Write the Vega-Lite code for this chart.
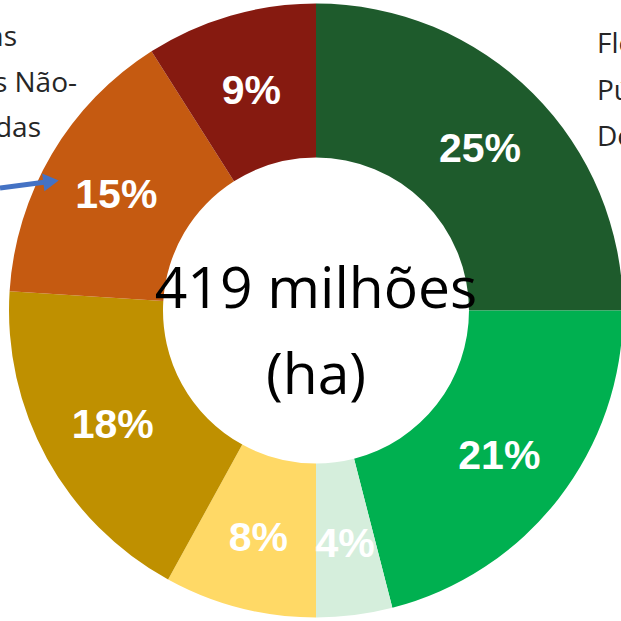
{
  "$schema": "https://vega.github.io/schema/vega-lite/v6.json",
  "width": 610,
  "height": 621,
  "padding": {"left": 11, "top": 0, "right": 0, "bottom": 0},
  "autosize": {"type": "none"},
  "background": "white",
  "config": {"view": {"stroke": null}},
  "datasets": {
    "slices": [
      {"i": 1, "cat": "Florestas Públicas Destinadas", "pct": 25, "label": "25%"},
      {"i": 2, "cat": "Categoria B", "pct": 21, "label": "21%"},
      {"i": 3, "cat": "Categoria C", "pct": 4, "label": "4%"},
      {"i": 4, "cat": "Categoria D", "pct": 8, "label": "8%"},
      {"i": 5, "cat": "Categoria E", "pct": 18, "label": "18%"},
      {"i": 6, "cat": "Florestas Públicas Não-Destinadas", "pct": 15, "label": "15%"},
      {"i": 7, "cat": "Categoria G", "pct": 9, "label": "9%"}
    ],
    "notesLeft": [
      {"t": "Florestas", "x": 17, "y": 38},
      {"t": "Públicas Não-", "x": 77, "y": 84},
      {"t": "Destinadas", "x": 41, "y": 129}
    ],
    "notesRight": [
      {"t": "Florestas", "x": 597, "y": 45},
      {"t": "Públicas", "x": 597, "y": 92},
      {"t": "Destinadas", "x": 597, "y": 138}
    ],
    "arrow": [
      {"x": 0, "y": 188},
      {"x": 46, "y": 182}
    ],
    "arrowTip": [
      {"x": 51, "y": 181.5}
    ]
  },
  "layer": [
    {
      "data": {"name": "slices"},
      "mark": {"type": "arc", "outerRadius": 307, "innerRadius": 153},
      "encoding": {
        "theta": {"field": "pct", "type": "quantitative", "stack": true},
        "order": {"field": "i", "type": "quantitative"},
        "color": {
          "field": "cat",
          "type": "nominal",
          "legend": null,
          "scale": {
            "domain": ["Florestas Públicas Destinadas", "Categoria B", "Categoria C", "Categoria D", "Categoria E", "Florestas Públicas Não-Destinadas", "Categoria G"],
            "range": ["#1E5B2C", "#00B050", "#D5EEDC", "#FFD966", "#BF9000", "#C55A11", "#861A10"]
          }
        }
      }
    },
    {
      "data": {"name": "slices"},
      "mark": {"type": "text", "radius": 232, "font": "Liberation Sans", "fontWeight": "bold", "fontSize": 41, "fill": "white", "baseline": "middle", "align": "center", "dy": 4},
      "encoding": {
        "theta": {"field": "pct", "type": "quantitative", "stack": true},
        "order": {"field": "i", "type": "quantitative"},
        "text": {"field": "label"}
      }
    },
    {
      "data": {"values": [{"t": ["419 milhões", "(ha)"]}]},
      "mark": {"type": "text", "font": "Open Sans", "fontSize": 57, "lineHeight": 86, "baseline": "alphabetic", "align": "center", "dy": -3, "fill": "black"},
      "encoding": {"text": {"field": "t"}}
    },
    {
      "data": {"name": "notesLeft"},
      "mark": {"type": "text", "font": "Open Sans", "fontSize": 28, "align": "right", "baseline": "middle", "fill": "#262626"},
      "encoding": {
        "x": {"field": "x", "type": "quantitative", "scale": {"domain": [11, 621]}, "axis": null},
        "y": {"field": "y", "type": "quantitative", "scale": {"domain": [0, 621], "reverse": true}, "axis": null},
        "text": {"field": "t"}
      }
    },
    {
      "data": {"name": "notesRight"},
      "mark": {"type": "text", "font": "Open Sans", "fontSize": 28, "align": "left", "baseline": "middle", "fill": "#262626"},
      "encoding": {
        "x": {"field": "x", "type": "quantitative", "scale": {"domain": [11, 621]}, "axis": null},
        "y": {"field": "y", "type": "quantitative", "scale": {"domain": [0, 621], "reverse": true}, "axis": null},
        "text": {"field": "t"}
      }
    },
    {
      "data": {"name": "arrow"},
      "mark": {"type": "line", "color": "#4472C4", "strokeWidth": 5, "clip": false},
      "encoding": {
        "x": {"field": "x", "type": "quantitative", "scale": {"domain": [11, 621]}, "axis": null},
        "y": {"field": "y", "type": "quantitative", "scale": {"domain": [0, 621], "reverse": true}, "axis": null}
      }
    },
    {
      "data": {"name": "arrowTip"},
      "mark": {"type": "point", "shape": "triangle-right", "filled": true, "color": "#4472C4", "size": 320, "opacity": 1, "angle": -7},
      "encoding": {
        "x": {"field": "x", "type": "quantitative", "scale": {"domain": [11, 621]}, "axis": null},
        "y": {"field": "y", "type": "quantitative", "scale": {"domain": [0, 621], "reverse": true}, "axis": null}
      }
    }
  ]
}
